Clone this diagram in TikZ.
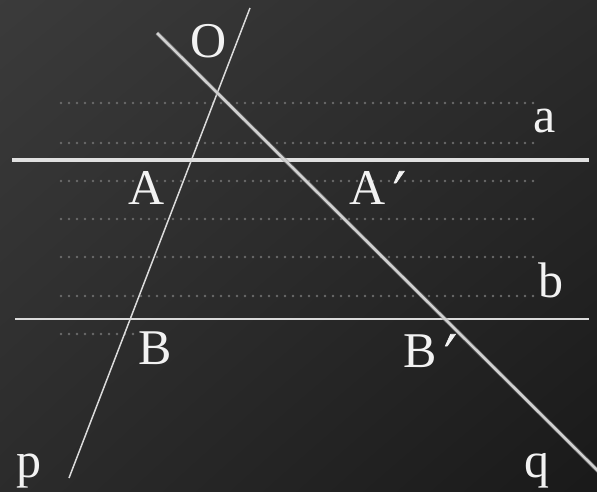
\documentclass[tikz,border=0pt]{standalone}
\usepackage{fontspec}
\setmainfont{Liberation Serif}
\newfontfamily\slantfont[FakeSlant=0.35,FakeBold=1.5]{Liberation Serif}
\usetikzlibrary{shadings}
\newcommand{\myprime}{{\slantfont\kern-1pt ′}}
\begin{document}
\begin{tikzpicture}[x=1pt,y=-1pt,
  lbl/.style={anchor=base west,inner sep=0pt,text=white!95!black,font=\fontsize{50}{50}\selectfont},
  dotline/.style={draw=white!42!black,line width=2.6pt,line cap=round,dash pattern=on 0pt off 8pt},
  thinline/.style={draw=white!86!black,line width=1.5pt},
  thickline/.style={draw=white!88!black,line width=3.2pt}]
\useasboundingbox (0,0) rectangle (597,491);
\shade[upper left=white!23!black,upper right=white!17!black,lower left=white!17!black,lower right=white!10!black] (0,0) rectangle (597,491);
% dotted guide lines
\foreach \yy in {103,143,181,219,257,296} {
  \coordinate (d1) at (61,\yy); \coordinate (d2) at (536,\yy);
  \draw[dotline] (d1) -- (d2);
}
\coordinate (e1) at (61,334); \coordinate (e2) at (138,334);
\draw[dotline] (e1) -- (e2);
% parallel lines a and b
\coordinate (a1) at (12,160); \coordinate (a2) at (589,160);
\draw[thickline] (a1) -- (a2);
\coordinate (b1) at (15,319); \coordinate (b2) at (589,319);
\draw[thinline] (b1) -- (b2);
% line p
\coordinate (p1) at (250,8); \coordinate (p2) at (69,478);
\draw[thinline] (p1) -- (p2);
% line q
\coordinate (q1) at (157,33); \coordinate (q2) at (599,472);
\draw[draw=white!55!black,line width=4.2pt,opacity=0.5] (q1) -- (q2);
\draw[draw=white!82!black,line width=2.6pt] (q1) -- (q2);
% labels
\node[lbl] (O) at (190,57) {O};
\node[lbl] (A) at (128,204) {A};
\node[lbl] (Ap) at (349,204) {A\myprime};
\node[lbl] (la) at (533,132) {a};
\node[lbl] (lb) at (538,297) {b};
\node[lbl] (B) at (138,364) {B};
\node[lbl] (Bp) at (403,367) {B\myprime};
\node[lbl] (lp) at (16,477) {p};
\node[lbl] (lq) at (524,477) {q};
\end{tikzpicture}
\end{document}
